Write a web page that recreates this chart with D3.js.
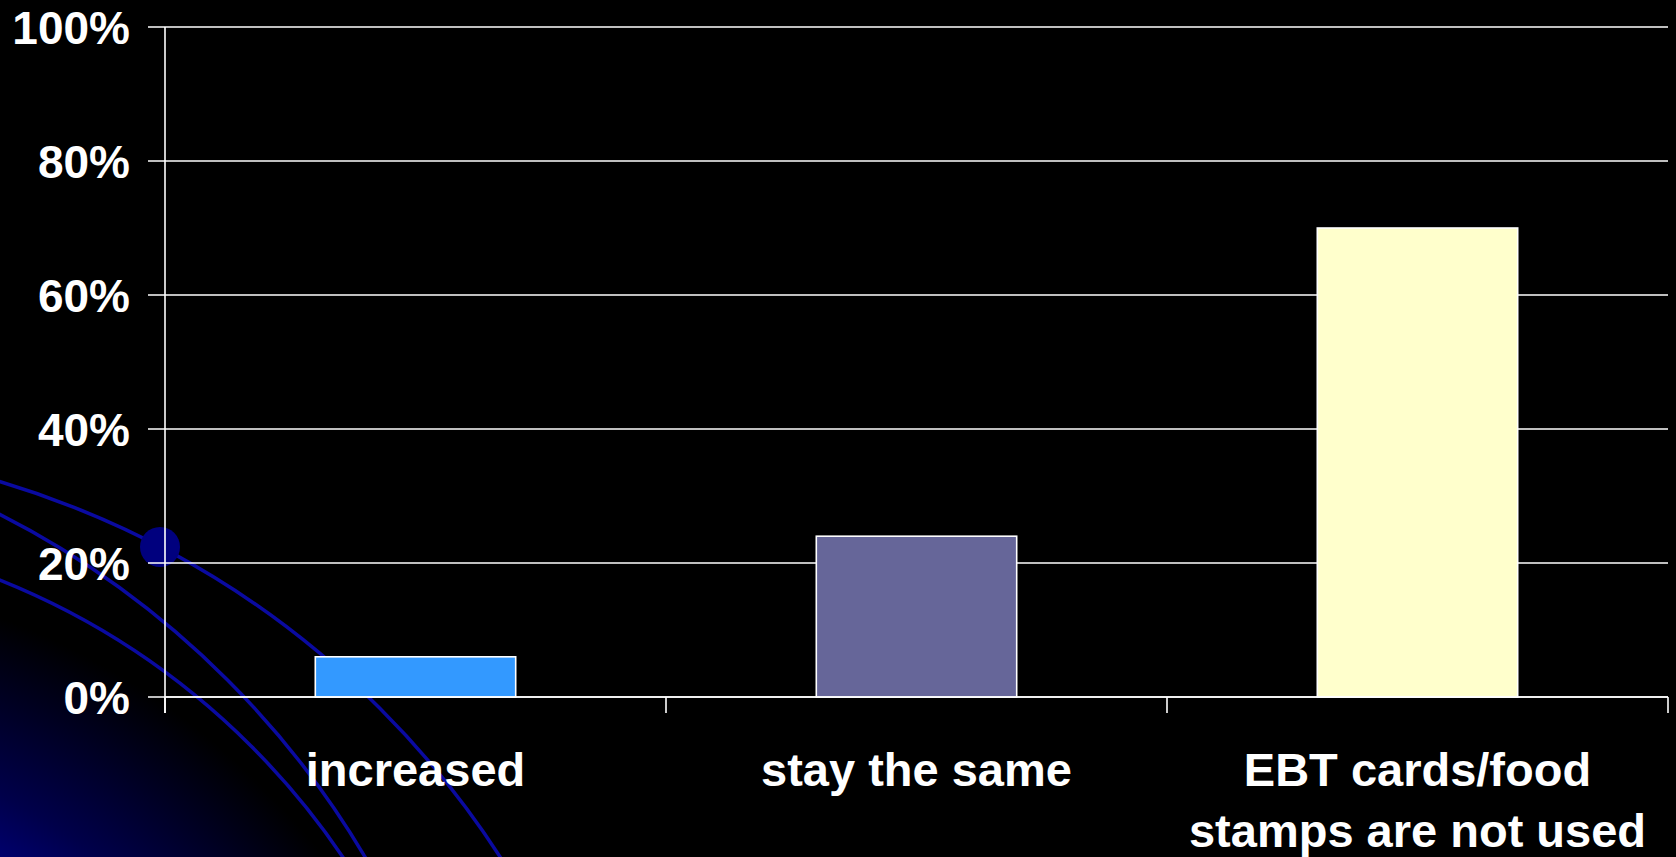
<!DOCTYPE html>
<html>
<head>
<meta charset="utf-8">
<script src="https://cdn.jsdelivr.net/npm/d3@7"></script>
<style>
  html, body { margin: 0; padding: 0; background: #000; overflow: hidden; }
  svg { display: block; }
  text { font-family: "Liberation Sans", Arial, sans-serif; font-weight: bold; fill: #fff; }
</style>
</head>
<body>
<svg id="chart" width="1676" height="857"></svg>
<script>
// ---- data ----
const categories = ["increased", "stay the same", "EBT cards/food stamps are not used"];
const categoryLines = [["increased"], ["stay the same"], ["EBT cards/food", "stamps are not used"]];
const values = [6, 24, 70];
const barColors = ["#3399FF", "#666699", "#FFFFCC"];
const yTicks = [0, 20, 40, 60, 80, 100];
const yTickLabels = ["0%", "20%", "40%", "60%", "80%", "100%"];

// ---- layout ----
const W = 1676, H = 857;
const plotL = 165, plotR = 1668, plotT = 27, plotB = 697;

const svg = d3.select("#chart");

// ---- background decoration ----
const defs = svg.append("defs");
const rg = defs.append("radialGradient")
  .attr("id", "glow").attr("gradientUnits", "userSpaceOnUse")
  .attr("cx", -260).attr("cy", 1310).attr("r", 740);
rg.append("stop").attr("offset", 0).attr("stop-color", "#0000a8");
rg.append("stop").attr("offset", 0.62).attr("stop-color", "#000094");
rg.append("stop").attr("offset", 0.78).attr("stop-color", "#00004a");
rg.append("stop").attr("offset", 1).attr("stop-color", "#000000");
svg.append("rect").attr("width", W).attr("height", H).attr("fill", "#000");
svg.append("circle").attr("cx", -260).attr("cy", 1310).attr("r", 740).attr("fill", "url(#glow)");

const arcs = [
  {cx: -258, cy: 1346, r: 902},
  {cx: -407, cy: 1314, r: 897},
  {cx: -280, cy: 1277, r: 751}
];
svg.append("g").selectAll("circle").data(arcs).join("circle")
  .attr("cx", d => d.cx).attr("cy", d => d.cy).attr("r", d => d.r)
  .attr("fill", "none").attr("stroke", "#0a0aa0").attr("stroke-width", 3.5);
svg.append("circle").attr("cx", 160).attr("cy", 547).attr("r", 20).attr("fill", "#00007e");

// ---- scales ----
const x = d3.scaleBand().domain(categories).range([plotL, plotR])
  .paddingInner(0.6).paddingOuter(0.3);
const y = d3.scaleLinear().domain([0, 100]).range([plotB, plotT]);

// gridlines
svg.append("g").selectAll("line").data(yTicks).join("line")
  .attr("x1", plotL - 17).attr("x2", plotR)
  .attr("y1", d => y(d)).attr("y2", d => y(d))
  .attr("stroke", "#fff").attr("stroke-width", 1.6);

// y labels
svg.append("g").selectAll("text").data(yTicks).join("text")
  .attr("x", plotL - 35).attr("y", d => y(d))
  .attr("dy", "0.36em").attr("text-anchor", "end")
  .style("font-size", "46px")
  .text((d, i) => yTickLabels[i]);

// y axis line
svg.append("line").attr("x1", plotL).attr("x2", plotL)
  .attr("y1", plotT).attr("y2", plotB + 16)
  .attr("stroke", "#fff").attr("stroke-width", 1.6);

// x category boundary ticks
const step = x.step();
const bounds = d3.range(categories.length + 1).map(i => x.range()[0] + i * step);
svg.append("g").selectAll("line").data(bounds).join("line")
  .attr("x1", d => d).attr("x2", d => d)
  .attr("y1", plotB).attr("y2", plotB + 16)
  .attr("stroke", "#fff").attr("stroke-width", 1.6);

// bars
svg.append("g").selectAll("rect").data(values).join("rect")
  .attr("x", (d, i) => x(categories[i]))
  .attr("width", x.bandwidth())
  .attr("y", d => y(d))
  .attr("height", d => y(0) - y(d))
  .attr("fill", (d, i) => barColors[i])
  .attr("stroke", "#fff").attr("stroke-width", 1.6);

// x axis line on top
svg.append("line").attr("x1", plotL).attr("x2", plotR)
  .attr("y1", plotB).attr("y2", plotB)
  .attr("stroke", "#fff").attr("stroke-width", 1.6);

// x labels
const xl = svg.append("g").selectAll("text").data(categories).join("text")
  .attr("text-anchor", "middle")
  .style("font-size", "47px")
  .attr("x", d => x(d) + x.bandwidth() / 2)
  .attr("y", 786);
xl.each(function(d, i) {
  const t = d3.select(this);
  categoryLines[i].forEach((ln, j) => {
    t.append("tspan").attr("x", x(d) + x.bandwidth() / 2)
      .attr("y", 786 + j * 61).text(ln);
  });
});
</script>
</body>
</html>
